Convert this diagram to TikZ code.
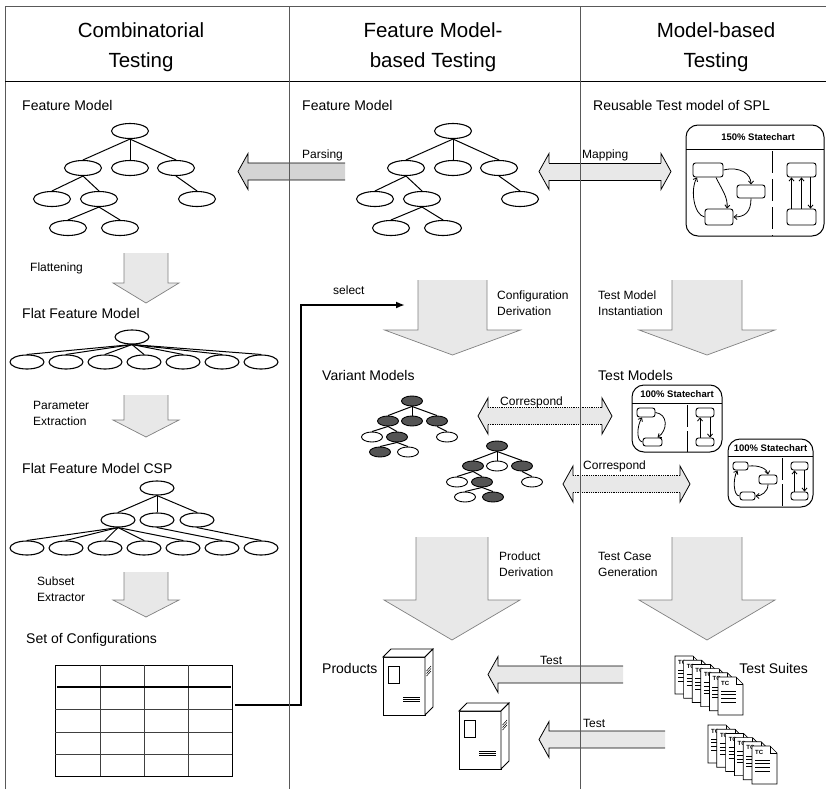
\documentclass[tikz,border=0pt]{standalone}
\usepackage{fontspec}
\setmainfont{Liberation Sans}
\usetikzlibrary{shapes.geometric,arrows.meta}

\definecolor{rulegray}{gray}{0.35}
\definecolor{blkfill}{gray}{0.91}
\definecolor{parsefill}{gray}{0.83}
\definecolor{varfill}{gray}{0.33}

\tikzset{
  feat/.style={ellipse,draw,line width=1.1pt,fill=white,minimum width=37pt,minimum height=15pt,inner sep=0pt},
  flatfeat/.style={feat,minimum width=34pt,minimum height=14pt},
  varfeat/.style={ellipse,draw,line width=0.9pt,fill=white,minimum width=21pt,minimum height=10pt,inner sep=0pt},
  vardark/.style={varfeat,fill=varfill},
  fedge/.style={line width=1pt},
  hdr/.style={font=\fontsize{20.5}{30}\selectfont,align=center},
  sect/.style={font=\fontsize{14}{17}\selectfont,anchor=west,inner sep=0pt},
  note/.style={font=\fontsize{12}{16}\selectfont,anchor=west,align=left,inner sep=0pt},
  blkline/.style={line width=0.8pt,draw=black},
  downline/.style={line width=0.7pt,draw=gray},
  state/.style={draw,rounded corners=2.5pt,line width=0.9pt,inner sep=0pt,fill=white},
  trans/.style={line width=0.8pt,-{Straight Barb[length=3pt,width=5pt]}},
  chart/.style={draw,line width=1pt,rounded corners=12pt},
  charttitle/.style={font=\fontsize{9.5}{11}\bfseries\selectfont,inner sep=0pt},
}

% left pointing block arrow: fill, tip x, centre y, tail x
\newcommand{\leftblk}[4]{%
  \fill[#1] (#2,#3) -- (#2+10,#3-18) -- (#2+10,#3-8.5) -- (#4,#3-8.5) -- (#4,#3+8.5) -- (#2+10,#3+8.5) -- (#2+10,#3+18) -- cycle;
  \draw[blkline] (#4,#3-8.5) -- (#2+10,#3-8.5) -- (#2+10,#3-18) -- (#2,#3) -- (#2+10,#3+18) -- (#2+10,#3+8.5) -- (#4,#3+8.5);
}
% two headed block arrow: body line style, left tip, right tip, centre y, fill
\newcommand{\dblblk}[5]{%
  \fill[#5] (#2,#4) -- (#2+10,#4-18) -- (#2+10,#4-8.5) -- (#3-10,#4-8.5) -- (#3-10,#4-18) -- (#3,#4) -- (#3-10,#4+18) -- (#3-10,#4+8.5) -- (#2+10,#4+8.5) -- (#2+10,#4+18) -- cycle;
  \draw[blkline] (#2+10,#4-8.5) -- (#2+10,#4-18) -- (#2,#4) -- (#2+10,#4+18) -- (#2+10,#4+8.5);
  \draw[blkline] (#3-10,#4-8.5) -- (#3-10,#4-18) -- (#3,#4) -- (#3-10,#4+18) -- (#3-10,#4+8.5);
  \draw[blkline,#1] (#2+10,#4-8.5) -- (#3-10,#4-8.5) (#2+10,#4+8.5) -- (#3-10,#4+8.5);
}
% downward block arrow: centre x, top, head base, tip, body half width, head half width
\newcommand{\downblk}[6]{%
  \fill[blkfill] (#1-#5,#2) -- (#1-#5,#3) -- (#1-#6,#3) -- (#1,#4) -- (#1+#6,#3) -- (#1+#5,#3) -- (#1+#5,#2) -- cycle;
  \draw[downline] (#1-#5,#2) -- (#1-#5,#3) -- (#1-#6,#3) -- (#1,#4) -- (#1+#6,#3) -- (#1+#5,#3) -- (#1+#5,#2);
}
% product cabinet: name, top left corner of the front
\newcommand{\cabinet}[3]{%
  \coordinate (#1) at (#2,#3);
  \draw[line width=0.8pt,fill=white] (#2,#3) rectangle (#2+42,#3+58);
  \draw[line width=0.8pt,fill=white] (#2,#3) -- (#2+8,#3-8) -- (#2+50,#3-8) -- (#2+42,#3) -- cycle;
  \draw[line width=0.8pt,fill=white] (#2+42,#3) -- (#2+50,#3-8) -- (#2+50,#3+50) -- (#2+42,#3+58) -- cycle;
  \draw[line width=0.7pt] (#2+5,#3+9) rectangle (#2+16,#3+26);
  \foreach \k in {0,1,2} {\draw[line width=0.6pt] (#2+20,#3+40+2*\k) -- (#2+37,#3+40+2*\k);}
  \foreach \k in {0,1,2} {\draw[line width=0.5pt] (#2+43.5,#3+14+2.5*\k) -- (#2+48,#3+9+2.5*\k);}
}
% test case sheet: name, top left corner
\newcommand{\tcdoc}[3]{%
  \draw[line width=0.7pt,fill=white] (#2,#3) -- (#2+18,#3) -- (#2+25,#3+7) -- (#2+25,#3+38) -- (#2,#3+38) -- cycle;
  \draw[line width=0.6pt] (#2+18,#3) -- (#2+18,#3+7) -- (#2+25,#3+7);
  \node[font=\fontsize{6}{6}\bfseries\selectfont,inner sep=0pt,anchor=west] (#1) at (#2+3,#3+6) {TC};
  \foreach \k in {0,...,3} {\draw[line width=0.6pt] (#2+3,#3+14+3.6*\k) -- (#2+18,#3+14+3.6*\k);}
}

\begin{document}
\begin{tikzpicture}[x=1pt,y=-1pt]
\useasboundingbox (0,0) rectangle (826,789);

\node[hdr] (hdcomb) at (141,47) {Combinatorial\\Testing};
\node[hdr] (hdfmbt) at (433,47) {Feature Model-\\based Testing};
\node[hdr] (hdmbt) at (716,47) {Model-based\\Testing};

\node[sect] (fmleft) at (22,105) {Feature Model};
\node[sect] (fmmid) at (302,105) {Feature Model};
\node[sect] (reuse) at (593,105) {Reusable Test model of SPL};

% feature model trees
\foreach \t/\dx in {1/0,2/323} {
  \begin{scope}[xshift=\dx pt]
    \node[feat] (r\t) at (130,131) {};
    \node[feat] (a\t) at (83,168) {};
    \node[feat] (b\t) at (130,168) {};
    \node[feat] (c\t) at (176,168) {};
    \node[feat] (d\t) at (52,199) {};
    \node[feat] (e\t) at (99,199) {};
    \node[feat] (f\t) at (197,199) {};
    \node[feat] (g\t) at (68,228) {};
    \node[feat] (h\t) at (120,228) {};
  \end{scope}
  \foreach \p/\c in {r/a,r/b,r/c,a/d,a/e,c/f,e/g,e/h}
    \draw[fedge] (\p\t.south) -- (\c\t.north);
}

\leftblk{parsefill}{238}{171.5}{345}
\node[note] (lparse) at (302,155) {Parsing};
\dblblk{}{539}{671}{171.5}{blkfill}
\node[note] (lmap) at (582,155) {Mapping};

% combinatorial column
\downblk{146}{253}{283}{303}{22}{33}
\node[note] (lflat) at (30,268) {Flattening};
\node[sect] (flatfm) at (22,313) {Flat Feature Model};
\node[flatfeat] (fr) at (132,337) {};
\foreach \k in {0,...,6} {
  \node[flatfeat] (fc\k) at ({27+39*\k},362) {};
  \draw[fedge] (fr.south) -- (fc\k.north);
}
\downblk{146}{395}{420}{437}{22}{33}
\node[note] (lparam) at (33,413) {Parameter\\Extraction};
\node[sect] (cspfm) at (22,468) {Flat Feature Model CSP};
\node[flatfeat] (cr) at (157,488) {};
\node[flatfeat] (ca) at (118,520) {};
\node[flatfeat] (cb) at (157,520) {};
\node[flatfeat] (cc) at (197,520) {};
\foreach \k in {0,...,6}
  \node[flatfeat] (cl\k) at ({27+39*\k},548) {};
\foreach \p/\c in {cr/ca,cr/cb,cr/cc,ca/cl0,ca/cl1,ca/cl2,ca/cl3,ca/cl4,cb/cl5,cc/cl6}
  \draw[fedge] (\p.south) -- (\c.north);
\downblk{146}{572}{600}{617}{22}{33}
\node[note] (lsubset) at (37,589) {Subset\\Extractor};
\node[sect] (setcfg) at (26,640) {Set of Configurations};

\node[draw,line width=1pt,minimum width=177pt,minimum height=111pt,inner sep=0pt] (cfg) at (143.5,720.5) {};
\draw[line width=0.8pt,draw=black!75] (100,665) -- (100,776) (144,665) -- (144,776) (188,665) -- (188,776);
\draw[line width=0.8pt,draw=black!75] (55,709) -- (232,709) (55,732) -- (232,732) (55,754) -- (232,754);
\draw[line width=2.3pt] (57,687) -- (231,687);

\coordinate (selfrom) at (235,705);
\coordinate (selbend) at (301,305);
\coordinate (selto) at (405,305);
\draw[line width=2.4pt,-{Latex[length=9pt,width=7pt]}] (selfrom) -| (selbend) -- (selto);
\node[note] (lsel) at (333,290) {select};

% feature model based column
\downblk{452.5}{280}{330}{355}{34.5}{68}
\node[note] (lcfgder) at (497,303) {Configuration\\Derivation};
\node[sect] (varmod) at (322,375) {Variant Models};

\node[vardark] (vr) at (412,401) {};
\node[vardark] (va) at (388,421) {};
\node[vardark] (vb) at (412,421) {};
\node[vardark] (vc) at (437,421) {};
\node[varfeat] (vd) at (372,437) {};
\node[vardark] (ve) at (397,437) {};
\node[varfeat] (vf) at (447,437) {};
\node[vardark] (vg) at (380,452) {};
\node[varfeat] (vh) at (408,452) {};
\node[vardark] (wr) at (497,446) {};
\node[vardark] (wa) at (473,466) {};
\node[varfeat] (wb) at (497,466) {};
\node[vardark] (wc) at (522,466) {};
\node[varfeat] (wd) at (457,482) {};
\node[vardark] (we) at (482,482) {};
\node[varfeat] (wf) at (532,482) {};
\node[varfeat] (wg) at (465,497) {};
\node[vardark] (wh) at (493,497) {};
\foreach \v in {v,w}
  \foreach \p/\c in {r/a,r/b,r/c,a/d,a/e,c/f,e/g,e/h}
    \draw[fedge] (\v\p.south) -- (\v\c.north);

\dblblk{densely dotted}{478}{612}{416}{blkfill}
\node[note] (lcor1) at (500,402) {Correspond};
\dblblk{densely dotted}{563}{690}{484}{blkfill}
\node[note] (lcor2) at (583,466) {Correspond};

\downblk{452}{537}{600}{640}{36}{68}
\node[note] (lprodder) at (499,564) {Product\\Derivation};
\node[sect] (prods) at (322,668) {Products};
\cabinet{prodA}{383}{657}
\cabinet{prodB}{459}{711}

\leftblk{blkfill}{488}{674.5}{623}
\node[note] (ltest1) at (540,660) {Test};
\leftblk{blkfill}{539}{739.5}{665}
\node[note] (ltest2) at (583,723) {Test};

% model based column
\draw[chart] (686,125) rectangle (824,236);
\node[charttitle] (ttl150) at (758,137) {150\% Statechart};
\draw[line width=0.8pt] (686,149) -- (824,149);
\draw[line width=0.8pt,dash pattern=on 22pt off 6pt] (772,151) -- (772,236);
\node[state,minimum width=30pt,minimum height=14pt] (sa) at (708,170) {};
\node[state,minimum width=28pt,minimum height=13pt] (sb) at (751,191.5) {};
\node[state,minimum width=28pt,minimum height=16pt] (sc) at (719,217) {};
\node[state,minimum width=29pt,minimum height=14pt] (sd) at (801.5,170) {};
\node[state,minimum width=29pt,minimum height=16pt] (se) at (801.5,217) {};
\draw[trans] (sa.east) .. controls (740,166) and (751,174) .. (sb.north);
\draw[trans] (sb.south) .. controls (751,212) and (745,217) .. (sc.east);
\draw[trans] ([xshift=8pt]sa.south) .. controls (722,190) and (728,197) .. ([xshift=8pt]sc.north);
\draw[trans] (sc.west) .. controls (694,215) and (690,190) .. ([xshift=-11pt]sa.south);
\draw[trans] ([xshift=-10pt]se.north) -- ([xshift=-10pt]sd.south);
\draw[trans] ([xshift=0pt]se.north) -- ([xshift=0pt]sd.south);
\draw[trans] ([xshift=9pt]sd.south) -- ([xshift=9pt]se.north);

\downblk{707}{280}{330}{355}{35}{68}
\node[note] (linst) at (598,303) {Test Model\\Instantiation};
\node[sect] (testmod) at (598,375) {Test Models};

\draw[chart] (632,385) rectangle (722,452);
\node[charttitle] (ttlA) at (677,394) {100\% Statechart};
\draw[line width=0.8pt] (632,403) -- (722,403);
\draw[line width=0.8pt,dash pattern=on 22pt off 4pt] (687,405) -- (687,452);
\node[state,minimum width=18pt,minimum height=9pt] (ta) at (646,412.5) {};
\node[state,minimum width=19pt,minimum height=8pt] (tb) at (652.5,442) {};
\node[state,minimum width=18pt,minimum height=9pt] (tc) at (705,412.5) {};
\node[state,minimum width=18pt,minimum height=8pt] (td) at (705,442) {};
\draw[trans] (tb.west) .. controls (636,441) and (637,426) .. ([xshift=-4pt]ta.south);
\draw[trans] (ta.east) .. controls (668,414) and (668,430) .. ([xshift=5pt]tb.north);
\draw[trans] ([xshift=-5pt]td.north) -- ([xshift=-5pt]tc.south);
\draw[trans] ([xshift=5pt]tc.south) -- ([xshift=5pt]td.north);

\draw[chart] (728,439) rectangle (813,507);
\node[charttitle] (ttlB) at (770.5,448) {100\% Statechart};
\draw[line width=0.8pt] (728,456) -- (813,456);
\draw[line width=0.8pt,dash pattern=on 22pt off 4pt] (782,458) -- (782,507);
\node[state,minimum width=15pt,minimum height=8pt] (ua) at (740.5,466) {};
\node[state,minimum width=18pt,minimum height=9pt] (ub) at (768,479.5) {};
\node[state,minimum width=15pt,minimum height=8pt] (uc) at (747.5,496) {};
\node[state,minimum width=17pt,minimum height=8pt] (ud) at (799.5,466) {};
\node[state,minimum width=17pt,minimum height=8pt] (ue) at (799.5,496) {};
\draw[trans] (ua.east) .. controls (760,465) and (767,469) .. (ub.north);
\draw[trans] (ub.south) .. controls (768,492) and (761,496) .. (uc.east);
\draw[trans] (uc.west) .. controls (733,496) and (733,478) .. ([xshift=-3pt]ua.south);
\draw[trans] ([xshift=-5pt]ue.north) -- ([xshift=-5pt]ud.south);
\draw[trans] ([xshift=5pt]ud.south) -- ([xshift=5pt]ue.north);

\downblk{707}{537}{600}{640}{35}{68}
\node[note] (ltcgen) at (598,564) {Test Case\\Generation};
\node[sect,anchor=east] (suites) at (808,668) {Test Suites};
\foreach \i in {0,...,5} {\tcdoc{tcA\i}{675+8.6*\i}{656+4.2*\i}}
\foreach \i in {0,...,5} {\tcdoc{tcB\i}{708+8.8*\i}{725+4.2*\i}}

% frame
\draw[line width=1pt,draw=rulegray] (5,789) -- (5,7) -- (826,7);
\draw[line width=1pt] (5,82) -- (826,82);
\draw[line width=1pt,draw=rulegray] (289,7) -- (289,789) (580,7) -- (580,789);
\end{tikzpicture}
\end{document}
